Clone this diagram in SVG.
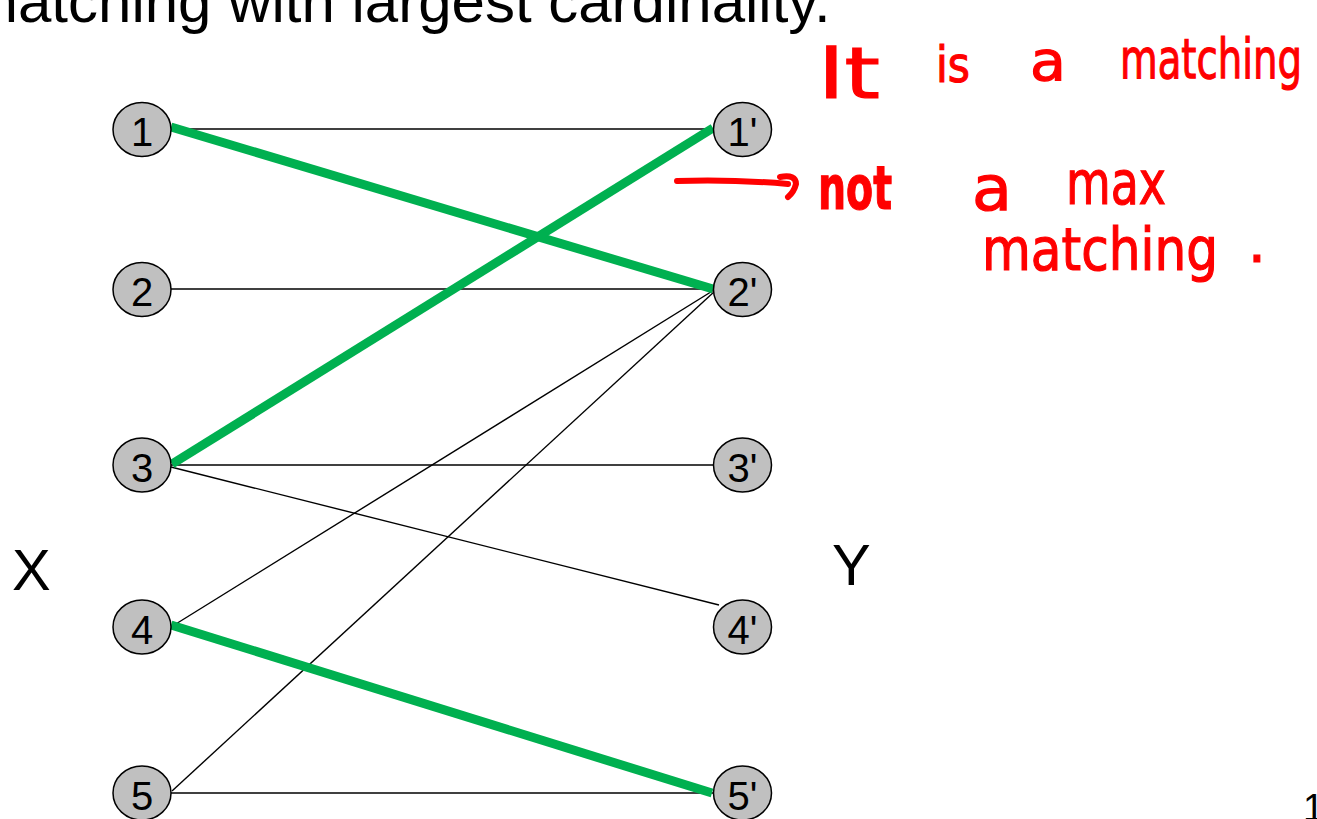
<svg xmlns="http://www.w3.org/2000/svg" width="1317" height="819" viewBox="0 0 1317 819">
<style>
.node ellipse{fill:#c0c0c0;stroke:#000;stroke-width:1.5}
.node text{font-family:"Liberation Sans",Arial,sans-serif;font-size:40px;text-anchor:middle;fill:#000}
.thin{stroke:#000;stroke-width:1.4;fill:none}
.match{stroke:#00b050;stroke-width:9;fill:none}
.lbl{font-family:"Liberation Sans",Arial,sans-serif;fill:#000}
.hand{font-family:"DejaVu Sans","Liberation Sans",sans-serif;fill:#ff0000;stroke:#ff0000;stroke-width:1.2}
.ink{stroke:#ff0000;stroke-width:6;fill:none;stroke-linecap:round;stroke-linejoin:round}
</style>
<rect width="1317" height="819" fill="#fff"/>
<text class="lbl" x="-32" y="22" font-size="60">matching with largest cardinality.</text>
<text class="lbl" x="12" y="590" font-size="58">X</text>
<text class="lbl" x="832" y="585" font-size="58">Y</text>
<text class="lbl" x="1303" y="821" font-size="38">1</text>
<g id="connectors">
<line class="thin" x1="171" y1="129" x2="713" y2="129"/>
<line class="thin" x1="171" y1="289" x2="713" y2="289"/>
<line class="thin" x1="171" y1="465" x2="713" y2="465"/>
<line class="thin" x1="171" y1="793" x2="713" y2="793"/>
<line class="thin" x1="171" y1="467" x2="719" y2="605"/>
<line class="thin" x1="171" y1="627" x2="714" y2="290"/>
<line class="thin" x1="172" y1="791" x2="715" y2="291"/>
<line class="match" x1="171" y1="127" x2="713" y2="289"/>
<line class="match" x1="172" y1="464" x2="713" y2="128"/>
<line class="match" x1="171" y1="625" x2="712" y2="793"/>
</g>
<g id="n1" class="node"><ellipse cx="142" cy="129.5" rx="29" ry="27"/><text x="142" y="146">1</text></g>
<g id="n2" class="node"><ellipse cx="142" cy="289.5" rx="29" ry="27"/><text x="142" y="306">2</text></g>
<g id="n3" class="node"><ellipse cx="142" cy="465" rx="29" ry="27"/><text x="142" y="481.5">3</text></g>
<g id="n4" class="node"><ellipse cx="142" cy="627" rx="29" ry="27"/><text x="142" y="643.5">4</text></g>
<g id="n5" class="node"><ellipse cx="142" cy="793" rx="29" ry="27"/><text x="142" y="809.5">5</text></g>
<g id="m1" class="node"><ellipse cx="742.5" cy="129.5" rx="29" ry="27"/><text x="742.5" y="146">1'</text></g>
<g id="m2" class="node"><ellipse cx="742.5" cy="289.5" rx="29" ry="27"/><text x="742.5" y="306">2'</text></g>
<g id="m3" class="node"><ellipse cx="742.5" cy="465" rx="29" ry="27"/><text x="742.5" y="481.5">3'</text></g>
<g id="m4" class="node"><ellipse cx="742.5" cy="627" rx="29" ry="27"/><text x="742.5" y="643.5">4'</text></g>
<g id="m5" class="node"><ellipse cx="742.5" cy="793" rx="29" ry="27"/><text x="742.5" y="809.5">5'</text></g>
<g id="annotation">
<path class="ink" d="M677 181 Q730 179 788 184 M780 177 Q796 174 796 184 Q794 192 788 197"/>
<text class="hand" font-size="72" x="818" y="98" textLength="62" lengthAdjust="spacingAndGlyphs">It</text>
<text class="hand" font-size="50" x="936" y="82" textLength="34" lengthAdjust="spacingAndGlyphs">is</text>
<text class="hand" font-size="56" x="1030" y="80" textLength="36" lengthAdjust="spacingAndGlyphs">a</text>
<text class="hand" font-size="56" x="1120" y="78" textLength="182" lengthAdjust="spacingAndGlyphs">matching</text>
<text class="hand" font-size="60" x="818" y="209" textLength="74" lengthAdjust="spacingAndGlyphs" font-weight="bold">not</text>
<text class="hand" font-size="62" x="972" y="210" textLength="40" lengthAdjust="spacingAndGlyphs">a</text>
<text class="hand" font-size="60" x="1066" y="204" textLength="100" lengthAdjust="spacingAndGlyphs">max</text>
<text class="hand" font-size="58" x="982" y="270" textLength="236" lengthAdjust="spacingAndGlyphs">matching</text>
<text class="hand" font-size="56" x="1248" y="262">.</text>
</g>
</svg>
